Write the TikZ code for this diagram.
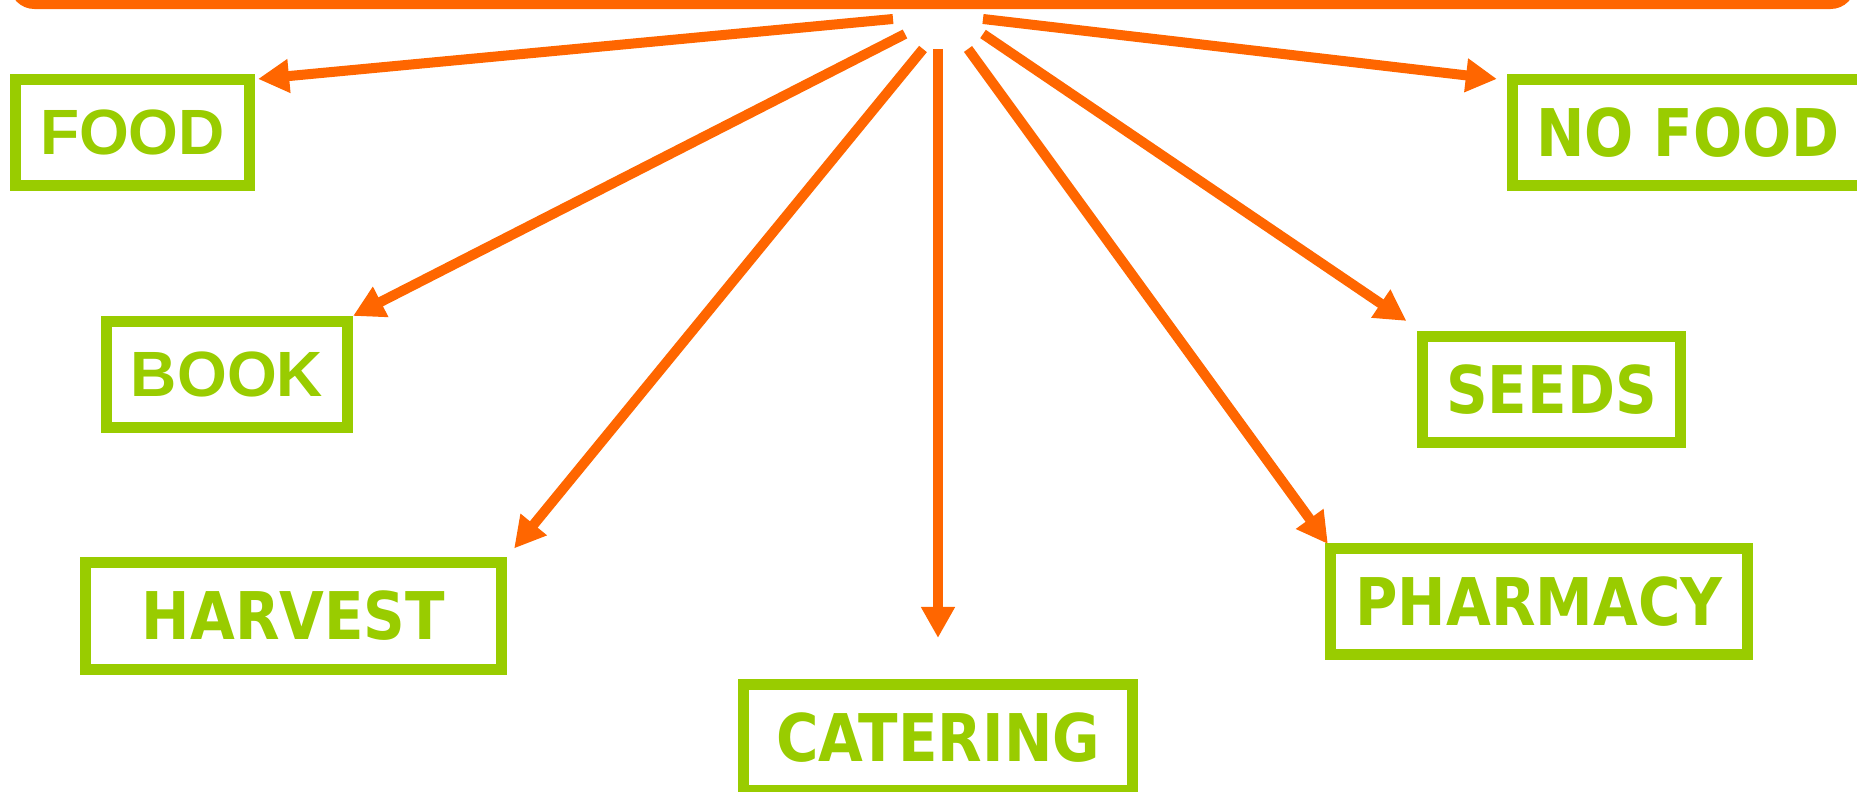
\documentclass[tikz,border=0pt]{standalone}
\usepackage{fontspec}
\setmainfont{Liberation Sans}
\newfontfamily\widebold{DejaVu Sans}[FakeStretch=0.88]
\usetikzlibrary{arrows.meta}
\definecolor{feedorange}{HTML}{FF6600}
\definecolor{leafgreen}{HTML}{99CC00}

\begin{document}
\begin{tikzpicture}[
  x=0.01cm, y=-0.01cm,
  >={Triangle[length=3.1mm, width=3.2mm]},
  catbox/.style={
    draw=leafgreen, line width=1.1mm, text=leafgreen,
    minimum height=10.6mm, inner sep=0pt
  },
  arialtxt/.style={font=\fontsize{18.2pt}{20pt}\selectfont\bfseries},
  widetxt/.style={font=\widebold\fontsize{18.7pt}{20pt}\selectfont\bfseries},
  feed/.style={->, line width=1mm, feedorange},
]

\useasboundingbox (0,0) rectangle (1857,792);
\clip (0,0) rectangle (1857,792);

% ============================================================
% Source bar (mostly above the frame)
% ============================================================
\node[fill=feedorange, rounded corners=2.5mm, inner sep=0pt,
      minimum width=184.5mm, minimum height=10.8mm] (source) at (932.5,-45) {};

\coordinate (out-food)     at (893,19);
\coordinate (out-book)     at (905,34);
\coordinate (out-harvest)  at (923,49);
\coordinate (out-catering) at (938,49);
\coordinate (out-pharmacy) at (968,49);
\coordinate (out-seeds)    at (983,34);
\coordinate (out-nofood)   at (983,19);

% ============================================================
% Category boxes
% ============================================================
\node[catbox, arialtxt, minimum width=23.4mm] (food) at (132.5,132.5) {FOOD};
\node[catbox, widetxt, minimum width=35.1mm] (nofood) at (1688,132.5) {NO FOOD};
\node[catbox, arialtxt, minimum width=24.1mm] (book) at (227,374.5) {BOOK};
\node[catbox, widetxt, minimum width=25.7mm] (seeds) at (1551.5,389.5) {SEEDS};
\node[catbox, widetxt, minimum width=41.6mm] (harvest) at (293.5,616) {HARVEST};
\node[catbox, widetxt, minimum width=41.7mm] (pharmacy) at (1539,601.5) {PHARMACY};
\node[catbox, widetxt, minimum width=38.8mm] (catering) at (938,737.5) {CATERING};

% ============================================================
% Arrows
% ============================================================
\draw[feed] (out-food) -- ([shift={(3,5)}]food.north east);
\draw[feed] (out-book) -- (book.north east);
\draw[feed] (out-harvest) -- ([shift={(7,-9)}]harvest.north east);
\draw[feed] (out-catering) -- ([yshift=4.1mm]catering.north);
\draw[feed] (out-pharmacy) -- ([shift={(3,1)}]pharmacy.north west);
\draw[feed] (out-seeds) -- ([shift={(-11,-10)}]seeds.north west);
\draw[feed] (out-nofood) -- ([shift={(-10,5)}]nofood.north west);

\end{tikzpicture}
\end{document}
